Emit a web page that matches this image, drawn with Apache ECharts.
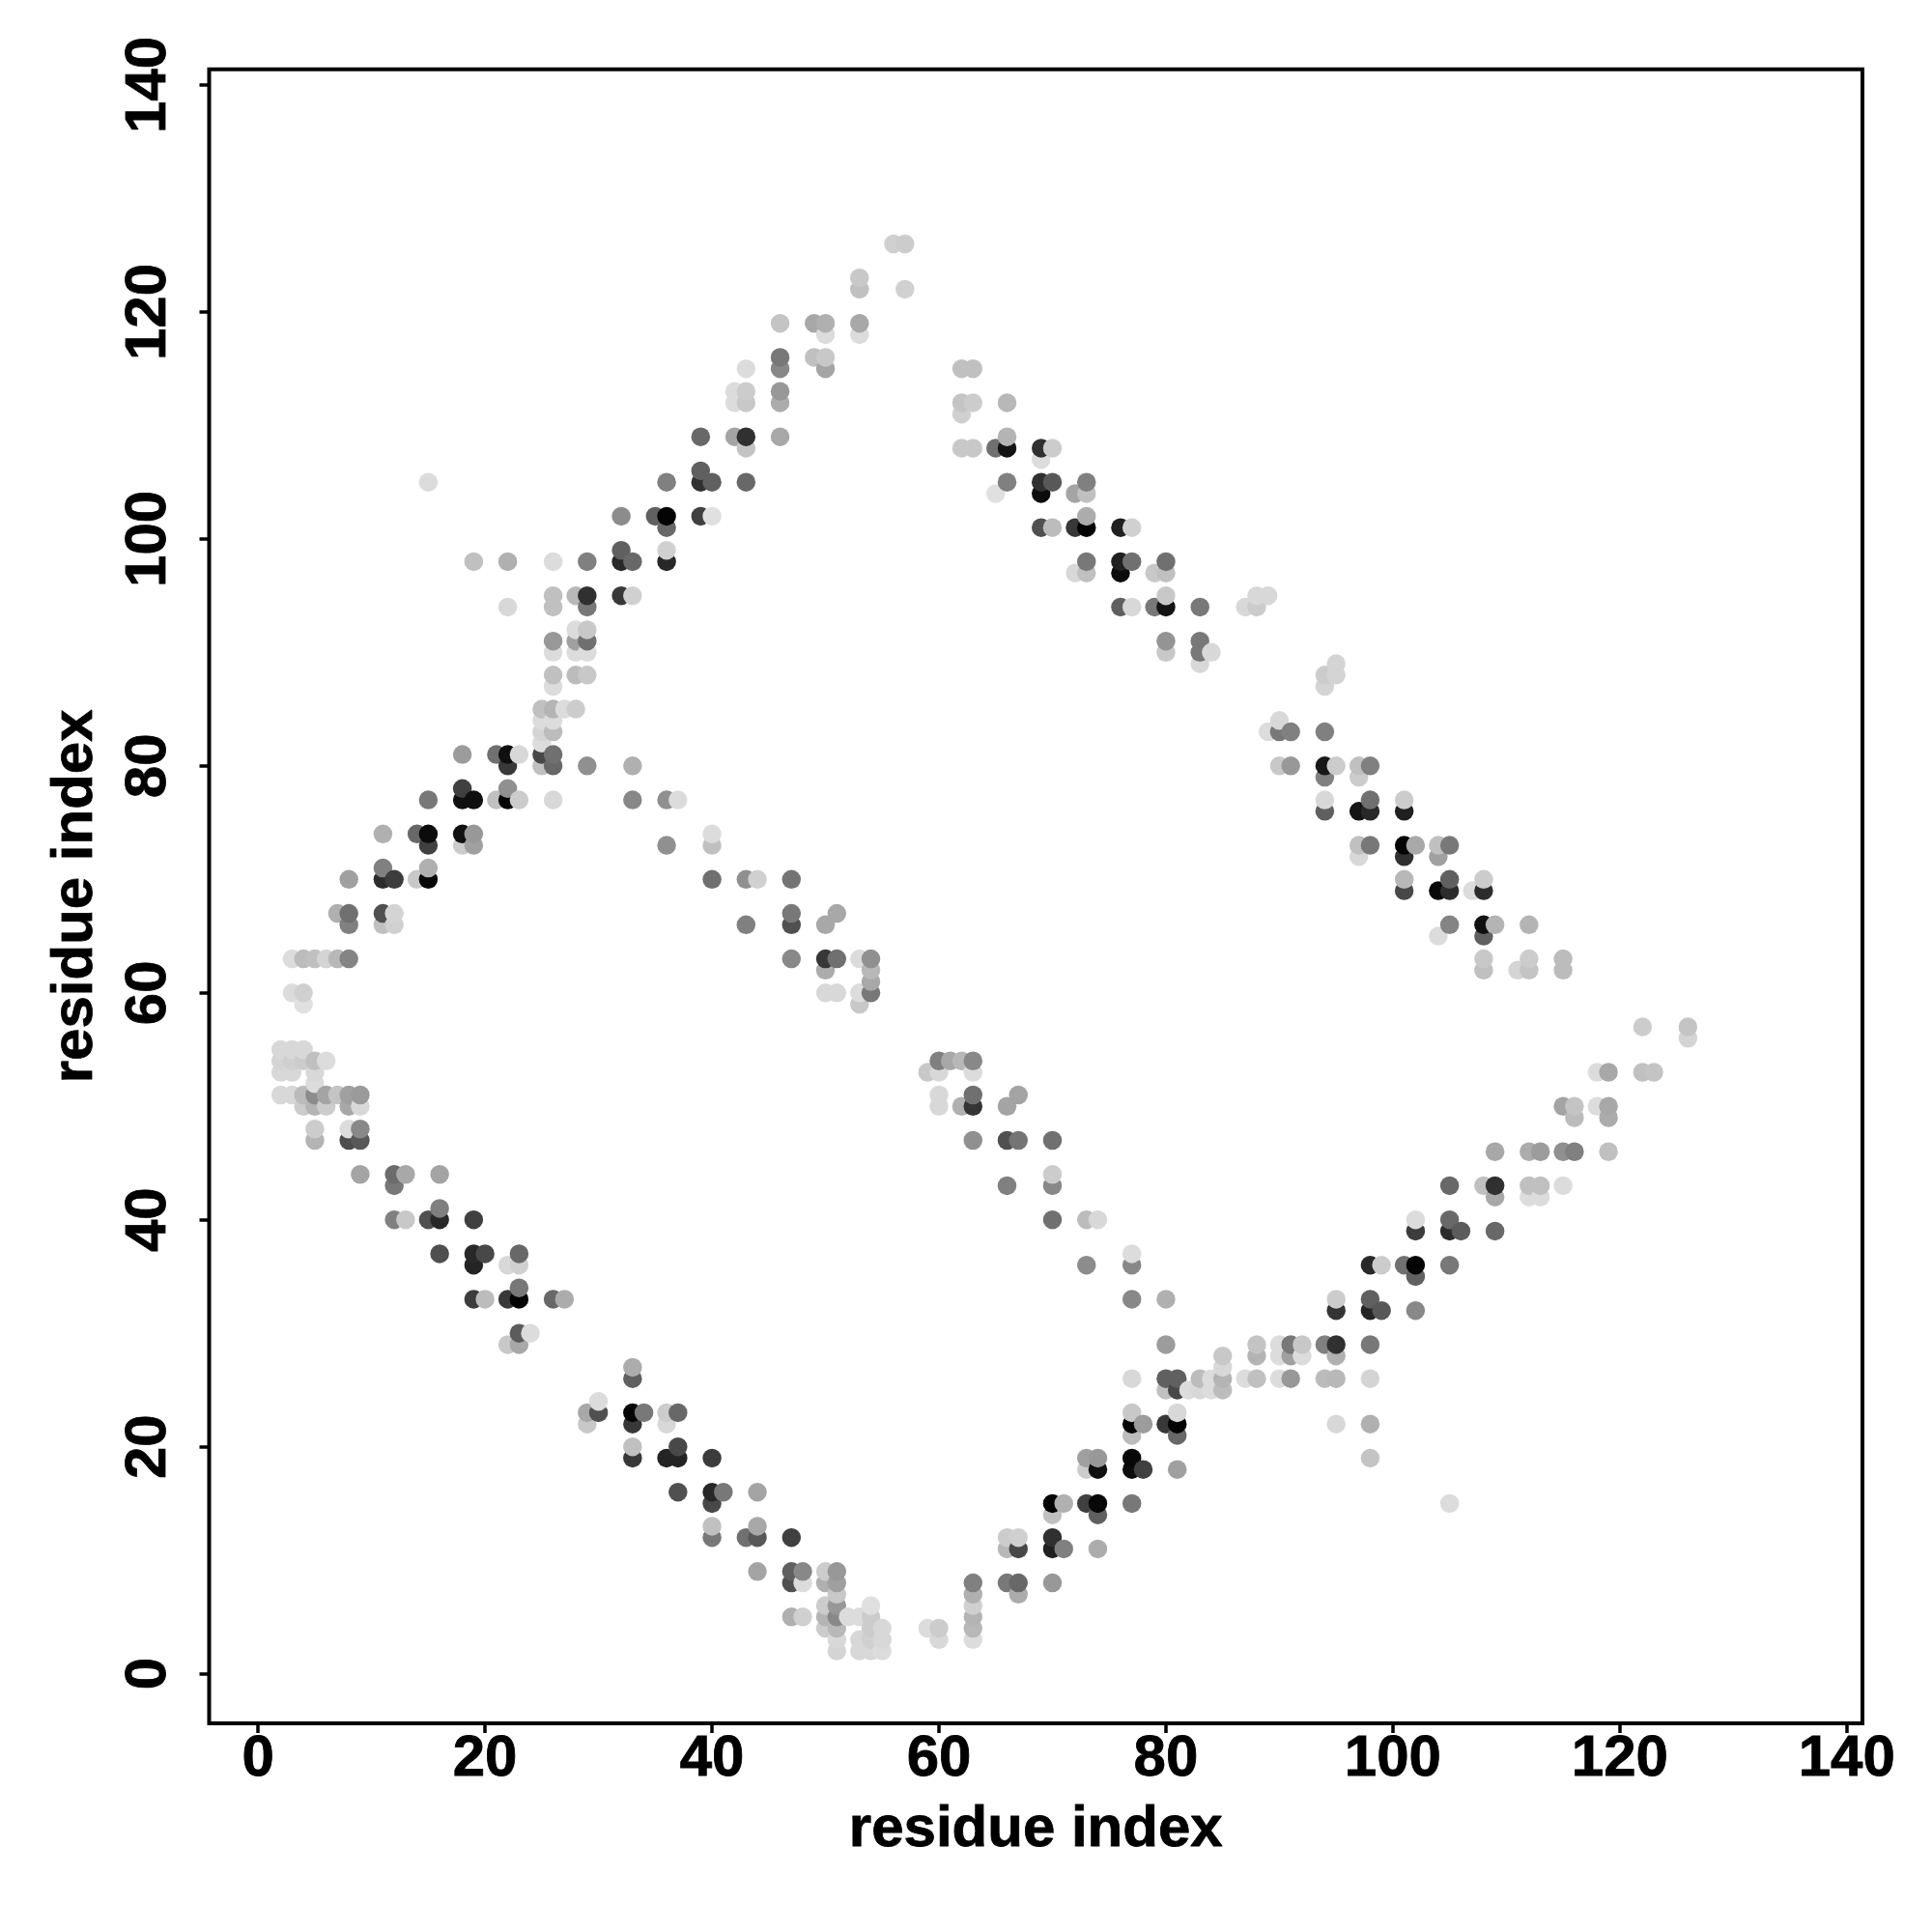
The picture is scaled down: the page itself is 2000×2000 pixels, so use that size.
<!DOCTYPE html>
<html>
<head>
<meta charset="utf-8">
<style>html,body{margin:0;padding:0;background:#fff}#chart{width:2000px;height:2000px}</style>
<script src="https://cdn.jsdelivr.net/npm/echarts@6/dist/echarts.min.js"></script>
</head>
<body>
<div id="chart"></div>
<script>
const axisTitle = 'residue index';
const tickValues = [0, 20, 40, 60, 80, 100, 120, 140];
// each contact: [residue i, residue j, grey level]
const bandLowerLeft = [
[2,55,0xd8],[3,55,0xd8],[4,55,0xd8],
[2,54,0xd4],[3,54,0xcf],[4,54,0xcc],[5,54,0xc0],[6,54,0xdc],
[2,53,0xd8],[3,53,0xd8],[5,53,0xd8],[5,52,0xdc],
[2,51,0xd8],[3,51,0xd8],[4,51,0xbb],[5,51,0x8c],[6,51,0xa4],[7,51,0xc4],[8,51,0xa0],[9,51,0x9a],
[4,50,0xcc],[5,50,0xb4],[6,50,0xcc],[8,50,0xa8],[9,50,0xd8],
[5,48,0xcc],[8,48,0xdc],[9,48,0x88],[5,47,0xb4],[8,47,0x4c],[9,47,0x58],
[9,44,0xa4],[12,44,0x6c],[13,44,0xa8],[16,44,0xa4],[12,43,0x78],[16,41,0x80],
[12,40,0x80],[13,40,0xc8],[15,40,0x50],[16,40,0x28],[19,40,0x40],
[16,37,0x50],[19,37,0x28],[20,37,0x48],[23,37,0x68],[19,36,0x24],[22,36,0xd8],[23,36,0xd0],
[23,34,0x78],[19,33,0x3c],[20,33,0xbc],[22,33,0x38],[23,33,0x04],[26,33,0x68],[27,33,0xac],
[23,30,0x5c],[24,30,0xdc],[22,29,0xc8],[23,29,0xa8],
[33,27,0xac],[33,26,0x60],[30,24,0xdc],
[29,23,0xa8],[30,23,0x50],[33,23,0x04],[34,23,0x78],[36,23,0xcc],[37,23,0x68],
[29,22,0xc8],[33,22,0x38],[36,22,0xd8],[33,20,0xc0],[37,20,0x48],
[33,19,0x38],[36,19,0x24],[37,19,0x24],[40,19,0x3c],
[37,16,0x50],[40,16,0x28],[41,16,0x78],[44,16,0xa4],[40,15,0x48],
[40,13,0xc0],[44,13,0xa8],[40,12,0x78],[43,12,0x70],[44,12,0x58],[47,12,0x40],
[44,9,0xa4],[47,9,0x60],[48,9,0x88],[50,9,0xcc],[51,9,0x98],
[47,8,0x50],[48,8,0xdc],[50,8,0xb0],[51,8,0xa0],[51,7,0xc8],
[50,6,0xcc],[51,6,0x98],[54,6,0xe0],
[47,5,0xb0],[48,5,0xd0],[50,5,0xb4],[51,5,0x88],[52,5,0xdc],[53,5,0xdc],[54,5,0xcc],
[50,4,0xcc],[51,4,0xb8],[54,4,0xcc],[55,4,0xd8],
[51,3,0xd8],[53,3,0xd8],[54,3,0xd0],[55,3,0xd8],
[51,2,0xd4],[53,2,0xd8],[54,2,0xd8],[55,2,0xdc]
];
const bandLowerRight = [
[59,4,0xdc],[60,4,0xcc],[63,4,0xb8],[60,3,0xd8],[63,3,0xdc],
[63,8,0x80],[66,8,0x78],[67,8,0x68],[70,8,0x98],[63,7,0xb0],[67,7,0xac],[63,6,0xd0],[63,5,0xb4],
[66,12,0xcc],[67,12,0xd0],[70,12,0x30],
[66,11,0xb8],[67,11,0x48],[70,11,0x20],[71,11,0x80],[74,11,0xac],
[70,14,0xc0],[74,14,0x60],[70,15,0x04],[71,15,0xb0],[73,15,0x40],[74,15,0x08],[77,15,0x78],
[73,18,0xcc],[74,18,0x10],[77,18,0x0c],[78,18,0x40],[81,18,0xa0],
[73,19,0xa0],[74,19,0x98],[77,19,0x08],[98,19,0xc4],[105,15,0xdc],
[77,21,0xbc],[81,21,0x68],
[77,22,0x04],[78,22,0x9c],[80,22,0x38],[81,22,0x04],[95,22,0xd8],[98,22,0xb0],
[77,23,0xc8],[81,23,0xd8],
[80,25,0xc0],[81,25,0x48],[82,25,0xdc],[83,25,0xd8],[84,25,0xdc],[85,25,0xbc],
[77,26,0xd8],[80,26,0x60],[81,26,0x60],[83,26,0xbc],[84,26,0xdc],[85,26,0xb4],[87,26,0xdc],[88,26,0xc0],[90,26,0xdc],[91,26,0x98],[94,26,0xbc],[95,26,0xb8],[98,26,0xd4],
[85,27,0xd8],
[85,28,0xc8],[88,28,0xb4],[90,28,0xdc],[91,28,0xa0],[92,28,0xdc],[95,28,0xb0],
[80,29,0x9c],[88,29,0xc4],[90,29,0xdc],[91,29,0x78],[92,29,0xc8],[94,29,0x80],[95,29,0x30],[98,29,0x78],
[95,32,0x34],[98,32,0x24],[99,32,0x58],[102,32,0x88],
[95,33,0xcc],[98,33,0x60],[102,35,0x60],
[98,36,0x28],[99,36,0xcc],[101,36,0x70],[102,36,0x04],[105,36,0x78],
[102,39,0x3c],[105,39,0x2c],[106,39,0x5c],[109,39,0x68],[102,40,0xdc],[105,40,0x68],
[109,42,0xa8],[112,42,0xdc],[113,42,0xdc],
[105,43,0x68],[108,43,0xc0],[109,43,0x30],[112,43,0xc0],[113,43,0xc0],[115,43,0xdc],
[109,46,0xa8],[112,46,0xac],[113,46,0x9c],[115,46,0x90],[116,46,0x80],[119,46,0xc0],
[116,49,0xbc],[119,49,0xac],[115,50,0xa4],[116,50,0xc4],[118,50,0xdc],[119,50,0xa8],
[118,53,0xdc],[119,53,0xa8],[122,53,0xc0],[123,53,0xc4],
[126,56,0xd4],[122,57,0xcc],[126,57,0xc4]
];
const bandInnerRight = [
[60,54,0x80],[61,54,0xa8],[62,54,0xb8],[63,54,0x88],
[59,53,0xc8],[60,53,0xd8],[63,53,0xdc],
[60,51,0xd8],[63,51,0x70],[67,51,0xa4],
[60,50,0xd8],[62,50,0xb0],[63,50,0x34],[66,50,0xa4],
[63,47,0x90],[66,47,0x50],[67,47,0x74],[70,47,0x70],
[70,44,0xcc],[66,43,0x80],[70,43,0x88],
[70,40,0x70],[73,40,0xbc],[74,40,0xd8],
[73,36,0x8c],[77,36,0x88],[77,37,0xdc],[77,33,0x88],[80,33,0xb0]
];
const bandUpperRight = [
[62,115,0xc0],[63,115,0xc0],[62,112,0xc4],[63,112,0xcc],[66,112,0xb8],[62,111,0xd0],[66,109,0xb4],
[62,108,0xc8],[63,108,0xc8],[65,108,0x70],[66,108,0x14],[69,108,0x30],[70,108,0xcc],[69,107,0xdc],
[66,105,0x80],[69,105,0x30],[70,105,0x58],[73,105,0x80],
[65,104,0xe0],[69,104,0x0c],[72,104,0xa4],[73,104,0xc0],[73,102,0xac],
[69,101,0x50],[70,101,0xbc],[72,101,0x38],[73,101,0x04],[76,101,0x20],[77,101,0xd0],
[73,98,0x78],[76,98,0x20],[77,98,0x70],[80,98,0x70],
[72,97,0xd8],[73,97,0xc0],[76,97,0x0c],[79,97,0xc8],[80,97,0xc0],
[80,95,0xc8],[88,95,0xd8],[89,95,0xd8],
[76,94,0x60],[77,94,0xd8],[79,94,0x78],[80,94,0x14],[83,94,0x78],[87,94,0xd8],[88,94,0xcc],
[80,91,0x94],[83,91,0x78],[80,90,0xc8],[83,90,0x78],[84,90,0xd8],[83,89,0xd8],
[95,89,0xd4],[94,88,0xcc],[95,88,0xd4],[94,87,0xd4],
[90,84,0xd8],[89,83,0xdc],[90,83,0x78],[91,83,0x80],[94,83,0x80],
[90,80,0xc8],[91,80,0x98],[94,80,0x18],[95,80,0xcc],[97,80,0xc0],[98,80,0x80],[94,79,0x80],[97,79,0xcc],
[94,77,0xd8],[98,77,0x70],[101,77,0xcc],[94,76,0x60],[97,76,0x14],[98,76,0x28],[101,76,0x20],
[97,73,0xc0],[98,73,0x78],[101,73,0x04],[102,73,0xa8],[104,73,0xc0],[105,73,0x78],
[97,72,0xd8],[101,72,0x30],[104,72,0xa0],
[101,70,0xb8],[105,70,0x60],[108,70,0xcc],
[101,69,0x48],[104,69,0x08],[105,69,0x2c],[107,69,0xdc],[108,69,0x2c],
[105,66,0x84],[108,66,0x10],[109,66,0xb4],[112,66,0xb4],[104,65,0xdc],[108,65,0x60],
[108,63,0xc8],[112,63,0xcc],[115,63,0xbc],[108,62,0xc0],[111,62,0xd4],[112,62,0xc4],[115,62,0xbc]
];
const bandUpperLeft = [
[56,126,0xd0],[57,126,0xcc],[53,123,0xc8],[53,122,0xc0],[57,122,0xd0],
[46,119,0xc4],[49,119,0xa8],[50,119,0xb0],[53,119,0xa8],[50,118,0xdc],[53,118,0xdc],
[46,116,0x78],[49,116,0xc0],[50,116,0xc8],[43,115,0xdc],[46,115,0x88],[50,115,0xa4],
[42,113,0xdc],[43,113,0xcc],[46,113,0x98],[42,112,0xdc],[43,112,0xc8],[46,112,0xac],
[39,109,0x68],[42,109,0xa4],[43,109,0x30],[46,109,0xa8],[43,108,0xc4],[39,106,0x60],
[36,105,0x80],[39,105,0x30],[40,105,0x60],[43,105,0x68],[15,105,0xdc],
[32,102,0x8c],[35,102,0x60],[36,102,0x04],[39,102,0x40],[40,102,0xe0],[36,101,0x68],
[32,99,0x60],[36,99,0xd0],
[19,98,0xc0],[22,98,0xb0],[26,98,0xdc],[29,98,0x80],[32,98,0x28],[33,98,0x68],[36,98,0x28],
[26,95,0xc0],[28,95,0xb8],[29,95,0x30],[32,95,0x38],[33,95,0xd0],
[22,94,0xd8],[26,94,0xc0],[29,94,0x78],
[28,92,0xdc],[29,92,0xc8],[26,91,0x98],[28,91,0xa0],[29,91,0x70],[26,90,0xdc],[28,90,0xdc],[29,90,0xdc],
[26,88,0xc0],[28,88,0xbc],[29,88,0xc8],[26,87,0xdc],
[25,85,0xc0],[26,85,0xb4],[27,85,0xdc],[28,85,0xcc],[25,84,0xdc],[26,84,0xdc],[25,83,0xd4],[26,83,0xbc],[25,82,0xdc],
[18,81,0x9c],[21,81,0x70],[22,81,0x10],[23,81,0xd8],[25,81,0x48],[26,81,0x70],
[22,80,0x38],[25,80,0xc0],[26,80,0x68],
[18,78,0x40],[22,78,0x90],
[15,77,0x78],[18,77,0x10],[19,77,0x10],[21,77,0xc0],[22,77,0x04],[23,77,0xcc],[26,77,0xd8],
[11,74,0xb0],[14,74,0x68],[15,74,0x0c],[18,74,0x10],[19,74,0x98],
[15,73,0x40],[18,73,0xcc],[19,73,0xa0],[11,71,0x80],[15,71,0xb0],
[8,70,0xa0],[11,70,0x2c],[12,70,0x3c],[14,70,0xc8],[15,70,0x08],
[7,67,0xb0],[8,67,0x70],[11,67,0x50],[12,67,0xd4],[8,66,0x80],[11,66,0xc0],[12,66,0xd0],
[3,63,0xdc],[4,63,0xbc],[5,63,0xc0],[6,63,0xd4],[7,63,0xb8],[8,63,0x84],
[3,60,0xdc],[4,60,0xd0],[4,59,0xe0]
];
const bandInnerLeft = [
[29,80,0x90],[33,80,0xb0],[33,77,0x88],[36,77,0x90],[37,77,0xdc],
[40,74,0xdc],[36,73,0x90],[40,73,0xc0],
[40,70,0x70],[43,70,0x90],[44,70,0xd0],[47,70,0x74],
[47,67,0x78],[51,67,0xa8],[43,66,0x80],[47,66,0x50],[50,66,0xa8],
[47,63,0x88],[50,63,0x38],[51,63,0x70],[53,63,0xdc],[54,63,0x90],
[50,62,0xac],[54,62,0xb8],[54,61,0xa8],
[50,60,0xd8],[51,60,0xd8],[53,60,0xdc],[54,60,0x78],[53,59,0xc8]
];

// R draws the points in order of i, then j
const contacts = [].concat(bandLowerLeft, bandLowerRight, bandInnerRight, bandUpperRight, bandUpperLeft, bandInnerLeft)
  .sort((a, b) => a[0] - b[0] || a[1] - b[1]);

const font = '"Liberation Sans", Arial, sans-serif';
function axis(min, max, nameGap, labelMargin, labelRotate) {
  return {
    type: 'value', min: min, max: max,
    name: axisTitle, nameLocation: 'middle', nameGap: nameGap,
    nameTextStyle: { color: '#000', fontFamily: font, fontWeight: 'bold', fontSize: 60, textBorderColor: '#000', textBorderWidth: 0.8 },
    axisLine: { show: false, onZero: false },
    axisTick: { show: true, length: 10, customValues: tickValues, lineStyle: { color: '#000', width: 3.5 } },
    axisLabel: { show: true, customValues: tickValues, margin: labelMargin, rotate: labelRotate, color: '#000',
      fontFamily: font, fontWeight: 'bold', fontSize: 60, hideOverlap: false, textBorderColor: '#000', textBorderWidth: 0.8 },
    splitLine: { show: false }
  };
}
const chart = echarts.init(document.getElementById('chart'), null, { renderer: 'canvas' });
chart.setOption({
  animation: false,
  backgroundColor: '#fff',
  grid: { show: true, left: 216.5, top: 71.7, width: 1711.5, height: 1712.3, containLabel: false,
    borderColor: '#000', borderWidth: 4, backgroundColor: 'transparent' },
  xAxis: axis(-4.314, 141.38, 80, 7, 0),
  yAxis: axis(-4.376, 141.39, 108, 32, 90),
  series: [{
    type: 'scatter', data: contacts, symbol: 'circle', symbolSize: 19.5, silent: true,
    encode: { x: 0, y: 1 },
    itemStyle: { opacity: 1, color: p => { const g = p.data[2]; return `rgb(${g},${g},${g})`; } }
  }]
});
</script>
</body>
</html>
